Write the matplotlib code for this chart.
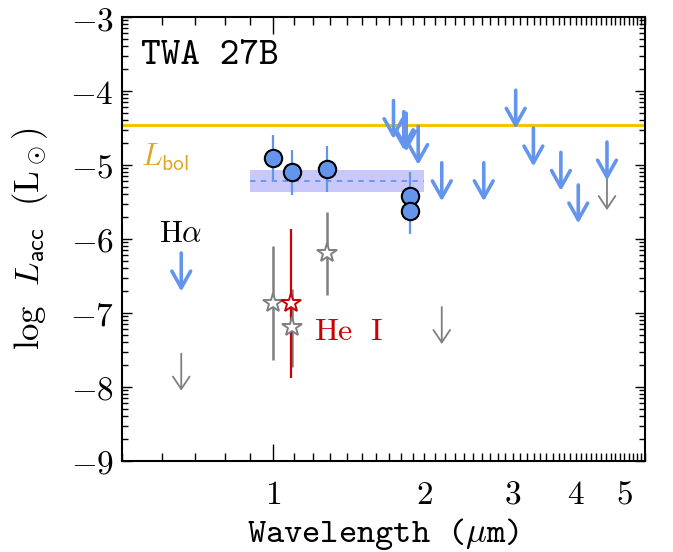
"""Accretion-luminosity upper limits and line detections for TWA 27B."""

import numpy as np
import matplotlib
matplotlib.use("Agg")
import matplotlib.pyplot as plt
from matplotlib.ticker import FixedLocator, FuncFormatter, NullFormatter
from matplotlib.patches import ArrowStyle

plt.rcParams["mathtext.fontset"] = "cm"

COL_BLUE = "#6495ED"
COL_GREY = "#7F7F7F"
COL_RED = "#CC0000"
COL_GOLD = "#F5C400"
COL_GOLD_TXT = "#E0A526"
COL_BAND = "#C8C8FA"

# L_bol of the object
LOG_LBOL = -4.46

# Detected lines (log L_acc) with lower / upper ends of the error bars
DET_LAM = [1.00, 1.09, 1.28, 1.87, 1.87]
DET_VAL = [-4.91, -5.10, -5.06, -5.42, -5.62]
DET_LO = [-5.20, -5.41, -5.37, -5.75, -5.93]
DET_HI = [-4.59, -4.80, -4.74, -5.09, -5.30]

# Mean of the detections, drawn as a shaded band
MEAN_LAM = [0.90, 2.00]
MEAN_VAL = -5.21
MEAN_LO = -5.36
MEAN_HI = -5.07

# Upper limits (thick blue arrows)
UL_LAM = [0.656, 1.736, 1.82, 1.84, 1.944, 2.166, 2.626, 3.04, 3.297, 3.74, 4.05, 4.62]
UL_VAL = [-6.19, -4.13, -4.28, -4.30, -4.48, -4.97, -4.97, -3.99, -4.50, -4.83, -5.27, -4.69]

# Second set: grey stars (detections) and thin grey upper limits
STAR_LAM = [1.00, 1.09, 1.28]
STAR_VAL = [-6.87, -7.19, -6.19]
STAR_LO = [-7.63, -7.73, -6.76]
STAR_HI = [-6.09, -6.68, -5.64]

GREY_UL_LAM = [0.656, 2.166, 4.62]
GREY_UL_VAL = [-7.55, -6.92, -5.11]

# He I 1.083 um
HEI_LAM = [1.083]
HEI_VAL = [-6.87]
HEI_LO = [-7.88]
HEI_HI = [-5.87]

ARROW_LEN = 0.52
GREY_ARROW_LEN = 0.50

TT = "cmtt10"


def upper_limit(ax, lam, top, length, color, lw, hl, hw):
    ax.annotate(
        "", xy=(lam, top - length), xytext=(lam, top),
        arrowprops=dict(
            arrowstyle=ArrowStyle("->", head_length=hl, head_width=hw),
            mutation_scale=15, lw=lw, color=color,
            shrinkA=0, shrinkB=0,
        ),
        zorder=4,
    )


def main():
    fig = plt.figure(figsize=(6.73, 5.52), dpi=100)
    ax = fig.add_axes([0.1813, 0.1649, 0.7771, 0.8043])
    ax.set_xscale("log")
    ax.set_xlim(0.5, 5.5)
    ax.set_ylim(-9, -3)

    # L_bol
    ax.axhline(LOG_LBOL, color=COL_GOLD, lw=2.2, zorder=2)

    # mean band
    ax.fill_between(MEAN_LAM, MEAN_LO, MEAN_HI, color=COL_BAND, lw=0, zorder=1)
    ax.plot(MEAN_LAM, [MEAN_VAL, MEAN_VAL], ls=(0, (3, 3)), color=COL_BLUE,
            lw=1.3, zorder=1.5)

    # error bars
    ax.vlines(DET_LAM, DET_LO, DET_HI, color=COL_BLUE, lw=1.6, zorder=2)
    ax.vlines(STAR_LAM, STAR_LO, STAR_HI, color=COL_GREY, lw=1.8, zorder=2)
    ax.vlines(HEI_LAM, HEI_LO, HEI_HI, color=COL_RED, lw=1.6, zorder=2)

    # markers
    ax.plot(DET_LAM, DET_VAL, "o", ms=12.5, mfc=COL_BLUE, mec="black",
            mew=1.5, zorder=5)
    ax.plot(STAR_LAM, STAR_VAL, "*", ms=15, mfc="white", mec=COL_GREY,
            mew=1.4, zorder=5)
    ax.plot(HEI_LAM, HEI_VAL, "*", ms=15, mfc="white", mec=COL_RED,
            mew=1.4, zorder=5)

    # upper limits
    for lam, val in zip(GREY_UL_LAM, GREY_UL_VAL):
        upper_limit(ax, lam, val, GREY_ARROW_LEN, COL_GREY, 1.3, 0.6, 0.4)
    for lam, val in zip(UL_LAM, UL_VAL):
        upper_limit(ax, lam, val, ARROW_LEN, COL_BLUE, 2.6, 0.8, 0.45)

    # labels inside the panel
    ax.text(0.036, 0.911, "TWA 27B", transform=ax.transAxes, family=TT,
            fontsize=27, ha="left", va="center")
    ax.text(0.545, -4.90, r"$L_{\mathsf{bol}}$", color=COL_GOLD_TXT,
            fontsize=22, ha="left", va="center")
    ax.text(0.653, -5.92, r"$\mathrm{H}\alpha$", fontsize=22,
            ha="center", va="center")
    ax.text(1.205, -7.25, r"$\mathrm{He\ \ I}$", color=COL_RED, fontsize=23,
            ha="left", va="center")

    # x axis: long tick only at 1, minor ticks every 0.1, labels 1-5
    ax.xaxis.set_major_locator(FixedLocator([1.0]))
    ax.xaxis.set_major_formatter(FuncFormatter(lambda v, p: r"$1$"))
    minors = [round(v, 1) for v in np.arange(0.5, 5.55, 0.1) if abs(v - 1) > 1e-6]
    ax.xaxis.set_minor_locator(FixedLocator(minors))
    ax.xaxis.set_minor_formatter(FuncFormatter(
        lambda v, p: rf"${int(round(v))}$" if round(v, 1) in (2.0, 3.0, 4.0, 5.0) else ""))

    # y axis: integer majors, log-style minors within each unit
    ax.yaxis.set_major_locator(FixedLocator(np.arange(-9, -2)))
    ax.yaxis.set_major_formatter(FuncFormatter(lambda v, p: rf"$-{int(round(-v))}$"))
    ymin = [n + np.log10(k) for n in range(-9, -3) for k in range(2, 10)]
    ax.yaxis.set_minor_locator(FixedLocator(ymin))
    ax.yaxis.set_minor_formatter(NullFormatter())

    ax.tick_params(axis="both", which="both", direction="in", top=True,
                   right=True, width=1.0, labelsize=24, colors="black")
    ax.tick_params(axis="x", which="major", length=12, pad=12)
    ax.tick_params(axis="x", which="minor", length=6, pad=12)
    ax.tick_params(axis="y", which="major", length=7, pad=6)
    ax.tick_params(axis="y", which="minor", length=4)
    for s in ax.spines.values():
        s.set_linewidth(1.5)

    ax.set_xlabel(r"Wavelength ($\mu$m)", family=TT, fontsize=25, labelpad=4)
    ax.set_ylabel(r"$\mathrm{log}\ \ L_{\mathsf{acc}}\ \ (\mathrm{L}_\odot)$",
                  fontsize=25, labelpad=14)

    fig.savefig("out.png", dpi=100)
    plt.close(fig)


if __name__ == "__main__":
    main()
